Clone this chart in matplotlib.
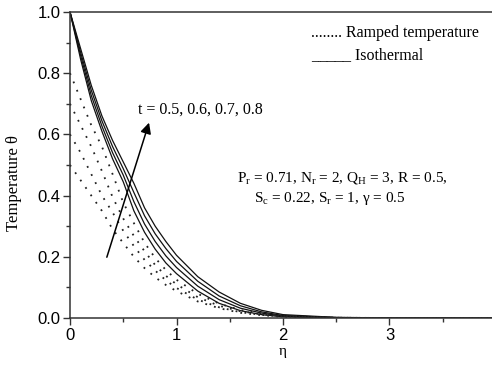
import matplotlib
matplotlib.use('Agg')
import matplotlib.pyplot as plt
from matplotlib.ticker import MultipleLocator

plt.rcParams['font.family'] = 'Liberation Serif'
plt.rcParams['mathtext.fontset'] = 'custom'
plt.rcParams['mathtext.rm'] = 'Liberation Serif'
plt.rcParams['mathtext.it'] = 'Liberation Serif:italic'

# values
eta = [0, 0.1, 0.2, 0.3, 0.4, 0.5, 0.6, 0.7, 0.8, 0.9, 1.0,
       1.2, 1.4, 1.6, 1.8, 2.0, 2.5, 3.0, 4.0]

iso_05 = [1.0, 0.845, 0.71, 0.61, 0.52, 0.445, 0.35, 0.28, 0.225, 0.18, 0.145,
          0.088, 0.048, 0.024, 0.011, 0.004, 0.0005, 0.0, 0.0]
iso_06 = [1.0, 0.857, 0.727, 0.627, 0.54, 0.467, 0.38, 0.307, 0.25, 0.203, 0.165,
          0.104, 0.060, 0.032, 0.016, 0.006, 0.001, 0.0, 0.0]
iso_07 = [1.0, 0.868, 0.744, 0.644, 0.56, 0.488, 0.41, 0.334, 0.275, 0.227, 0.185,
          0.12, 0.072, 0.040, 0.020, 0.008, 0.0015, 0.0, 0.0]
iso_08 = [1.0, 0.88, 0.76, 0.66, 0.58, 0.51, 0.44, 0.36, 0.30, 0.25, 0.205,
          0.135, 0.085, 0.048, 0.025, 0.011, 0.002, 0.0003, 0.0]

ramp_05 = [0.50, 0.45, 0.40, 0.35, 0.29, 0.245, 0.20, 0.163, 0.133, 0.108, 0.088,
           0.054, 0.032, 0.017, 0.009, 0.004, 0.0005, 0.0, 0.0]
ramp_06 = [0.60, 0.54, 0.47, 0.40, 0.345, 0.285, 0.235, 0.19, 0.155, 0.123, 0.098,
           0.06, 0.035, 0.019, 0.010, 0.005, 0.0007, 0.0, 0.0]
ramp_07 = [0.70, 0.63, 0.56, 0.48, 0.395, 0.325, 0.268, 0.218, 0.173, 0.138, 0.11,
           0.068, 0.040, 0.022, 0.012, 0.006, 0.001, 0.0, 0.0]
ramp_08 = [0.80, 0.715, 0.63, 0.56, 0.47, 0.377, 0.31, 0.246, 0.196, 0.157, 0.125,
           0.079, 0.047, 0.026, 0.014, 0.007, 0.001, 0.0, 0.0]

iso = [iso_05, iso_06, iso_07, iso_08]
ramp = [ramp_05, ramp_06, ramp_07, ramp_08]

fig = plt.figure(figsize=(4.92, 3.70), dpi=100)
ax = fig.add_axes([70 / 492, 52 / 370, 426 / 492, 306 / 370])

for th in iso:
    ax.plot(eta, th, color='#111111', lw=0.9)
for th in ramp:
    ax.plot(eta, th, color='#222222', lw=1.3, linestyle=(0, (1, 4)))

ax.set_xlim(0, 4)
ax.set_ylim(0, 1)
ax.xaxis.set_major_locator(MultipleLocator(1))
ax.xaxis.set_minor_locator(MultipleLocator(0.5))
ax.yaxis.set_major_locator(MultipleLocator(0.2))
ax.yaxis.set_minor_locator(MultipleLocator(0.1))
ax.xaxis.set_major_formatter(plt.FuncFormatter(lambda v, p: '%d' % v))
ax.yaxis.set_major_formatter(plt.FuncFormatter(lambda v, p: '%.1f' % v))
ax.tick_params(which='major', direction='out', length=5, width=1, color='#333333',
               labelsize=12, pad=2)
ax.tick_params(which='minor', direction='out', length=3, width=1, color='#333333')
for lab in ax.get_xticklabels() + ax.get_yticklabels():
    lab.set_family('Liberation Sans')
for sp in ax.spines.values():
    sp.set_linewidth(1.1)
    sp.set_color('#333333')
ax.spines['right'].set_visible(False)

ax.set_xlabel('η', fontsize=11, labelpad=2)
ax.set_ylabel('Temperature θ', fontsize=12)
ax.yaxis.set_label_coords(-0.113, 0.44)

ax.annotate('', xy=(0.75, 0.647), xytext=(0.338, 0.19),
            arrowprops=dict(arrowstyle='-|>', color='k', lw=1.1, mutation_scale=16))
ax.text(0.638, 0.68, 't = 0.5, 0.6, 0.7, 0.8', fontsize=11.5, va='center')

ax.text(2.263, 0.931, '........ Ramped temperature', fontsize=11.5, va='center')
ax.text(2.263, 0.859, '_____ Isothermal', fontsize=11.5, va='center')

ax.text(2.554, 0.457, r'$\mathrm{P_r}$ = 0.71, $\mathrm{N_r}$ = 2, $\mathrm{Q_H}$ = 3, R = 0.5,',
        fontsize=11, ha='center', va='center')
ax.text(2.44, 0.389, r'$\mathrm{S_c}$ = 0.22, $\mathrm{S_r}$ = 1, γ = 0.5',
        fontsize=11, ha='center', va='center')

fig.savefig('out.png', dpi=100)
